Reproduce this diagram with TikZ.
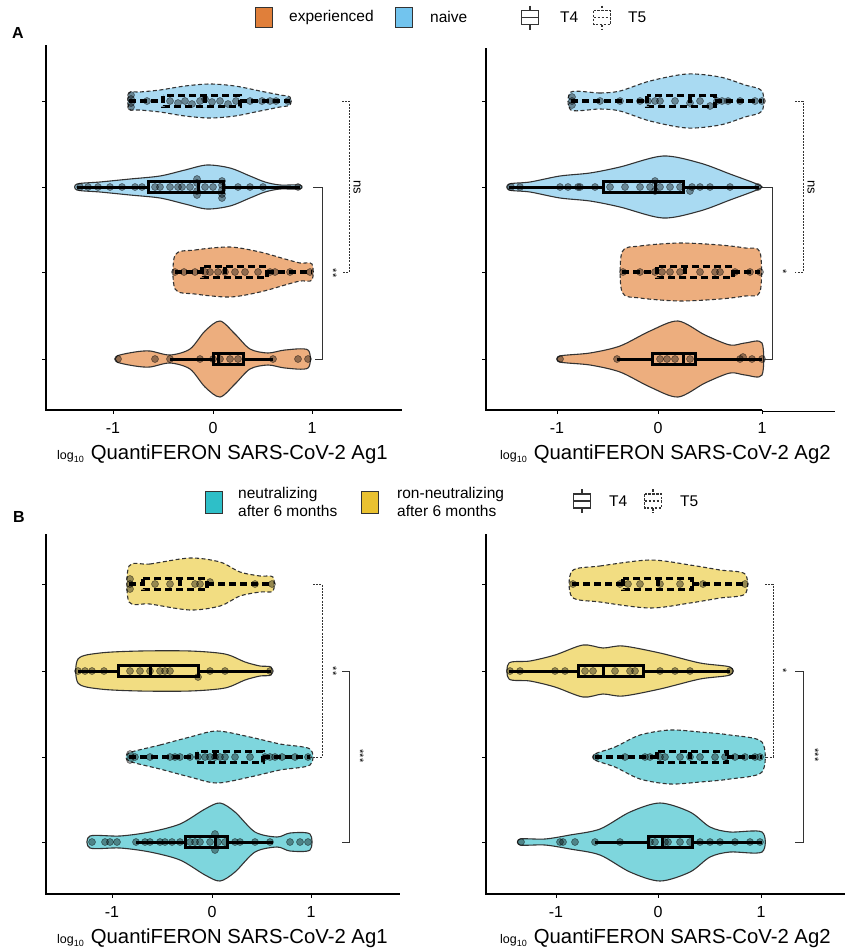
\documentclass[tikz,border=0pt]{standalone}
\usepackage{fontspec}
\setmainfont{Liberation Sans}
\definecolor{legOr}{HTML}{E07F3A}
\definecolor{legBl}{HTML}{72C4EE}
\definecolor{legTe}{HTML}{2EBFC8}
\definecolor{legYe}{HTML}{E9C130}
\definecolor{vOr}{HTML}{EDAE7E}
\definecolor{vBl}{HTML}{A9DAF2}
\definecolor{vTe}{HTML}{7ED6DD}
\definecolor{vYe}{HTML}{F2DD82}
\definecolor{olc}{HTML}{333333}
\newcommand\vio[3]{%
  \gdef\vioTopL{}\gdef\vioBotL{}%
  \foreach \px/\ph in {#3}{%
    \xdef\vioTopL{\vioTopL (\px,#2-\ph)}%
    \xdef\vioBotL{(\px,#2+\ph) \vioBotL}%
  }%
  \edef\vioTmp{\noexpand\path[#1] plot[smooth cycle, tension=0.5] coordinates {\vioTopL\vioBotL};}%
  \vioTmp
}
\newcommand\bxp[7]{%
  \draw[#1] (#3,#2) -- (#4,#2);
  \draw[#1] (#6,#2) -- (#7,#2);
  \draw[#1] (#4,#2-5.5) rectangle (#6,#2+5.5);
  \draw[#1] (#5,#2-5.5) -- (#5,#2+5.5);
}
\newcommand\dts[2]{%
  \foreach \qx/\qy in {#2}{\path[dotst] (\qx,#1+\qy) circle[radius=3.5pt];}%
}
\newcommand\bpglyph[3]{%
  \draw[#1] (#2,#3-12) -- (#2,#3-7);
  \draw[#1] (#2,#3+7) -- (#2,#3+12);
  \draw[#1] (#2-8.5,#3-7) rectangle (#2+8.5,#3+7);
  \draw[#1] (#2-8.5,#3) -- (#2+8.5,#3);
}
\begin{document}
\begin{tikzpicture}[x=1pt,y=-1pt,
  vsolid/.style={draw=olc, line width=1.1pt},
  vdash/.style={draw=olc, line width=1.1pt, dash pattern=on 4pt off 2.5pt},
  bxT4/.style={line width=3pt, black},
  bxT5/.style={line width=3.2pt, black, dash pattern=on 7pt off 4pt},
  dotst/.style={fill=black, fill opacity=0.38, draw=black, draw opacity=0.55, line width=0.5pt},
  axisl/.style={line width=1.4pt, black},
  tickl/.style={line width=1pt, black},
  ticklab/.style={font=\fontsize{16}{16}\selectfont},
  xtitle/.style={anchor=base west, inner sep=0pt, font=\fontsize{20.3}{21}\selectfont},
  legtxt/.style={anchor=west, inner sep=0pt, font=\fontsize{15.5}{18}\selectfont, align=left},
  legsq/.style={draw=olc, line width=0.8pt, minimum width=17pt, minimum height=20pt, inner sep=0pt},
  sig/.style={font=\fontsize{11}{11}\selectfont, rotate=-90, inner sep=0pt},
  brs/.style={line width=0.9pt, black!80},
  brd/.style={line width=0.9pt, black!80, dash pattern=on 2pt off 1.2pt},
  glyT4/.style={line width=1.2pt, black!80},
  glyT5/.style={line width=1.2pt, black!80, dash pattern=on 2.5pt off 1.5pt},
  panlab/.style={font=\fontsize{16}{16}\selectfont\bfseries, inner sep=0pt}]
\useasboundingbox (0,0) rectangle (845,951);

% ---------------- Panel labels and legends
\node[panlab] (labA) at (18,33) {A};
\node[panlab] (labB) at (19,517) {B};

\node[legsq, fill=legOr] (sqExp) at (263.5,17.5) {};
\node[legtxt] (tExp) at (289,17) {experienced};
\node[legsq, fill=legBl] (sqNai) at (404,17.5) {};
\node[legtxt] (tNai) at (430,17) {naive};
\bpglyph{glyT4}{530}{17.5}
\node[legtxt] (tT4a) at (560,17) {T4};
\bpglyph{glyT5}{602}{17.5}
\node[legtxt] (tT5a) at (628,17) {T5};

\node[legsq, fill=legTe, minimum height=22pt] (sqNeu) at (214,502) {};
\node[legtxt] (tNeu) at (238,502) {neutralizing\\after 6 months};
\node[legsq, fill=legYe, minimum height=22pt] (sqNon) at (370,502) {};
\node[legtxt] (tNon) at (397,502) {ron-neutralizing\\after 6 months};
\bpglyph{glyT4}{582}{501}
\node[legtxt] (tT4b) at (609,501) {T4};
\bpglyph{glyT5}{653}{501}
\node[legtxt] (tT5b) at (680,501) {T5};

% ---------------- Axes
\draw[axisl] (46,45) -- (46,410) -- (402,410);
\draw[axisl] (486,48) -- (486,410) -- (762,410);
\draw[axisl] (762,411.5) -- (835,411.5);
\draw[axisl] (46,534) -- (46,894) -- (400,894);
\draw[axisl] (486,534) -- (486,894) -- (845,894);
\foreach \yy in {101,187,272,359}{\draw[tickl] (42,\yy) -- (46,\yy); \draw[tickl] (482,\yy) -- (486,\yy);}
\foreach \yy in {584,671,757,842}{\draw[tickl] (42,\yy) -- (46,\yy); \draw[tickl] (482,\yy) -- (486,\yy);}
\foreach \xx/\lab [count=\i] in {113/-1,213/0,312/1}{
  \draw[tickl] (\xx,410) -- (\xx,414);
  \node[ticklab] (tkAL\i) at (\xx,428) {\lab};}
\foreach \xx/\lab [count=\i] in {557/-1,658/0,762/1}{
  \draw[tickl] (\xx,410) -- (\xx,414);
  \node[ticklab] (tkAR\i) at (\xx,428) {\lab};}
\foreach \xx/\lab [count=\i] in {112/-1,212/0,311/1}{
  \draw[tickl] (\xx,894) -- (\xx,898);
  \node[ticklab] (tkBL\i) at (\xx,912) {\lab};}
\foreach \xx/\lab [count=\i] in {556/-1,658/0,761/1}{
  \draw[tickl] (\xx,894) -- (\xx,898);
  \node[ticklab] (tkBR\i) at (\xx,912) {\lab};}

\node[xtitle] (xtAL) at (57,459) {{\fontsize{12.5}{12}\selectfont log\raisebox{-3pt}{\fontsize{9}{9}\selectfont 10}}\hspace{7pt}QuantiFERON SARS-CoV-2 Ag1};
\node[xtitle] (xtAR) at (500,459) {{\fontsize{12.5}{12}\selectfont log\raisebox{-3pt}{\fontsize{9}{9}\selectfont 10}}\hspace{7pt}QuantiFERON SARS-CoV-2 Ag2};
\node[xtitle] (xtBL) at (57,943) {{\fontsize{12.5}{12}\selectfont log\raisebox{-3pt}{\fontsize{9}{9}\selectfont 10}}\hspace{7pt}QuantiFERON SARS-CoV-2 Ag1};
\node[xtitle] (xtBR) at (500,943) {{\fontsize{12.5}{12}\selectfont log\raisebox{-3pt}{\fontsize{9}{9}\selectfont 10}}\hspace{7pt}QuantiFERON SARS-CoV-2 Ag2};

% ---------------- Panel A left
\vio{vdash, fill=vBl}{101}{129/8, 140/9, 160/11, 185/15, 210/17, 235/15, 260/10, 280/6, 290/4}
\bxp{bxT5}{101}{129}{163}{205}{240}{290}
\dts{101}{131/-6,131/-2,131/2,131/6,147/0,170/0,178/2,185/0,192/3,200/0,205/-2,212/1,220/0,228/3,236/0,250/0,262/0,270/0,276/0,288/0}

\vio{vsolid, fill=vBl}{187}{77/3, 100/5, 130/8, 160/11, 185/17, 207/22, 230/19, 250/11, 265/5, 280/2, 300/2}
\bxp{bxT4}{187}{77}{148}{198}{223}{300}
\dts{187}{80/0,88/0,98/0,110/0,122/0,135/0,142/0,155/0,160/0,170/0,178/0,182/0,190/0,197/-8,197/-4,197/4,197/8,205/0,213/0,222/-6,222/-2,222/3,222/7,222/11,238/0,250/0,263/0,298/0}

\vio{vdash, fill=vOr}{272}{175/17, 195/22, 230/25, 260/20, 285/13, 300/9, 312/8}
\bxp{bxT5}{272}{175}{202}{225}{267}{312}
\dts{272}{175/0,184/0,195/0,205/0,210/0,218/0,225/0,235/0,245/0,258/0,270/0,275/0,290/0,310/0}

\vio{vsolid, fill=vOr}{359}{117/3, 135/7, 150/8, 170/4, 190/10, 205/28, 220/38, 235/25, 250/10, 268/6, 285/9, 308/9}
\bxp{bxT4}{359}{170}{213}{218}{243}{273}
\dts{359}{118/0,155/0,170/0,200/0,213/0,220/0,230/0,238/0,273/0,298/0,308/0}

\coordinate (aL1) at (313,187); \coordinate (aL2) at (322,187);
\coordinate (aL3) at (322,359); \coordinate (aL4) at (315,359);
\draw[brs] (aL1) -- (aL2) -- (aL3) -- (aL4);
\node[sig] (sAL1) at (333,273) {**};
\coordinate (aL5) at (342,101); \coordinate (aL6) at (349,101);
\coordinate (aL7) at (349,272); \coordinate (aL8) at (342,272);
\draw[brd] (aL5) -- (aL6) -- (aL7) -- (aL8);
\node[sig, font=\fontsize{13}{13}\selectfont] (sAL2) at (357,187) {ns};

% ---------------- Panel A right
\vio{vdash, fill=vBl}{101}{571/9, 600/8, 620/10, 650/20, 687/27, 720/24, 745/16, 762/10}
\bxp{bxT5}{101}{571}{647}{690}{715}{762}
\dts{101}{572/-4,572/0,572/4,600/0,620/0,640/0,648/0,655/0,660/0,675/0,690/2,700/0,710/5,717/0,722/0,728/0,740/0,755/0,762/0}

\vio{vsolid, fill=vBl}{187}{509/3, 530/5, 560/11, 590/14, 620/20, 663/31, 700/24, 730/13, 759/2}
\bxp{bxT4}{187}{509}{603}{655}{683}{759}
\dts{187}{511/0,520/0,560/0,568/0,578/0,580/0,595/0,610/0,625/0,640/0,650/0,655/-6,655/4,660/0,670/0,680/0,690/4,692/0,700/0,710/0,730/0,758/0}

\vio{vdash, fill=vOr}{272}{622/20, 640/26, 680/29, 720/27, 745/24, 760/20}
\bxp{bxT5}{272}{622}{657}{685}{733}{760}
\dts{272}{623/0,640/0,655/0,662/0,670/0,680/0,700/0,715/0,720/0,735/0,750/0,760/0}

\vio{vsolid, fill=vOr}{359}{560/3, 590/6, 620/13, 650/28, 678/38, 705/24, 730/14, 745/16, 762/16}
\bxp{bxT4}{359}{617}{652}{683}{695}{762}
\dts{359}{560/0,617/0,660/0,667/0,675/0,690/0,740/0,743/-2,752/0,762/0}

\coordinate (aR1) at (762,187); \coordinate (aR2) at (772,187);
\coordinate (aR3) at (772,359); \coordinate (aR4) at (764,359);
\draw[brs] (aR1) -- (aR2) -- (aR3) -- (aR4);
\node[sig] (sAR1) at (783,272) {*};
\coordinate (aR5) at (795,101); \coordinate (aR6) at (803,101);
\coordinate (aR7) at (803,272); \coordinate (aR8) at (795,272);
\draw[brd] (aR5) -- (aR6) -- (aR7) -- (aR8);
\node[sig, font=\fontsize{13}{13}\selectfont] (sAR2) at (811,187) {ns};

% ---------------- Panel B left
\vio{vdash, fill=vYe}{584}{129/18, 150/20, 190/26, 220/22, 240/12, 260/8, 273/7}
\bxp{bxT5}{584}{129}{143}{180}{207}{273}
\dts{584}{130/-5,130/0,130/5,155/0,170/0,195/0,200/0,210/-2,255/0,272/0}

\vio{vsolid, fill=vYe}{671}{78/12, 100/18, 140/20, 190/20, 225/17, 245/9, 260/5, 271/4}
\bxp{bxT4}{671}{78}{118}{150}{198}{271}
\dts{671}{78/0,85/0,92/0,104/0,130/0,140/0,150/0,160/0,165/0,170/0,198/6,210/0,225/0,270/0}

\vio{vdash, fill=vTe}{757}{129/4, 160/12, 190/20, 217/26, 250/20, 280/13, 310/8}
\bxp{bxT5}{757}{129}{197}{215}{263}{310}
\dts{757}{130/-3,130/3,135/0,150/0,170/0,175/0,180/0,190/0,198/0,205/0,210/0,215/0,220/0,225/0,235/0,250/0,265/0,270/0,275/0,282/0,295/0,308/0}

\vio{vsolid, fill=vTe}{842}{90/6, 120/6, 150/10, 180/18, 205/33, 220/39, 235/30, 255/10, 277/5, 290/9, 310/8}
\bxp{bxT4}{842}{136}{185}{215}{227}{273}
\dts{842}{92/0,105/0,110/0,117/0,136/0,145/0,150/0,160/0,165/0,172/0,180/0,190/0,195/0,200/0,210/0,215/-8,215/8,218/0,225/0,235/0,240/0,255/0,270/0,290/0,300/0,308/0}

\coordinate (bL1) at (313,584); \coordinate (bL2) at (322,584);
\coordinate (bL3) at (322,757); \coordinate (bL4) at (310,757);
\draw[brd] (bL1) -- (bL2) -- (bL3) -- (bL4);
\node[sig] (sBL1) at (333,671) {**};
\coordinate (bL5) at (342,671); \coordinate (bL6) at (349,671);
\coordinate (bL7) at (349,842); \coordinate (bL8) at (342,842);
\draw[brs] (bL5) -- (bL6) -- (bL7) -- (bL8);
\node[sig] (sBL2) at (360,756) {***};

% ---------------- Panel B right
\vio{vdash, fill=vYe}{584}{572/13, 600/18, 650/24, 690/19, 720/14, 745/10}
\bxp{bxT5}{584}{572}{623}{658}{692}{745}
\dts{584}{573/0,620/0,628/0,640/0,660/0,680/0,703/0,745/0}

\vio{vsolid, fill=vYe}{671}{509/8, 530/10, 555/16, 583/26, 603/23, 623/25, 660/18, 700/8, 730/4}
\bxp{bxT4}{671}{509}{578}{603}{643}{730}
\dts{671}{510/0,520/0,555/0,565/0,585/0,593/0,615/0,630/0,635/0,660/0,675/0,690/0,730/0}

\vio{vdash, fill=vTe}{757}{595/3, 615/10, 640/22, 670/27, 700/25, 730/22, 762/15}
\bxp{bxT5}{757}{595}{657}{690}{727}{762}
\dts{757}{596/0,625/0,645/0,650/0,660/0,665/0,680/0,690/0,700/0,715/0,725/0,735/0,745/0,755/0,760/0}

\vio{vsolid, fill=vTe}{842}{520/3, 545/3, 570/7, 600/13, 630/30, 660/39, 690/30, 710/15, 730/10, 762/10}
\bxp{bxT4}{842}{595}{648}{662}{692}{762}
\dts{842}{521/0,560/0,563/0,575/0,595/0,620/0,650/0,655/0,665/0,668/0,680/0,690/0,700/0,710/0,720/0,735/0,750/0,760/0}

\coordinate (bR1) at (765,584); \coordinate (bR2) at (773,584);
\coordinate (bR3) at (773,757); \coordinate (bR4) at (765,757);
\draw[brd] (bR1) -- (bR2) -- (bR3) -- (bR4);
\node[sig] (sBR1) at (783,671) {*};
\coordinate (bR5) at (795,671); \coordinate (bR6) at (803,671);
\coordinate (bR7) at (803,842); \coordinate (bR8) at (795,842);
\draw[brs] (bR5) -- (bR6) -- (bR7) -- (bR8);
\node[sig] (sBR2) at (815,755) {***};
\end{tikzpicture}
\end{document}
